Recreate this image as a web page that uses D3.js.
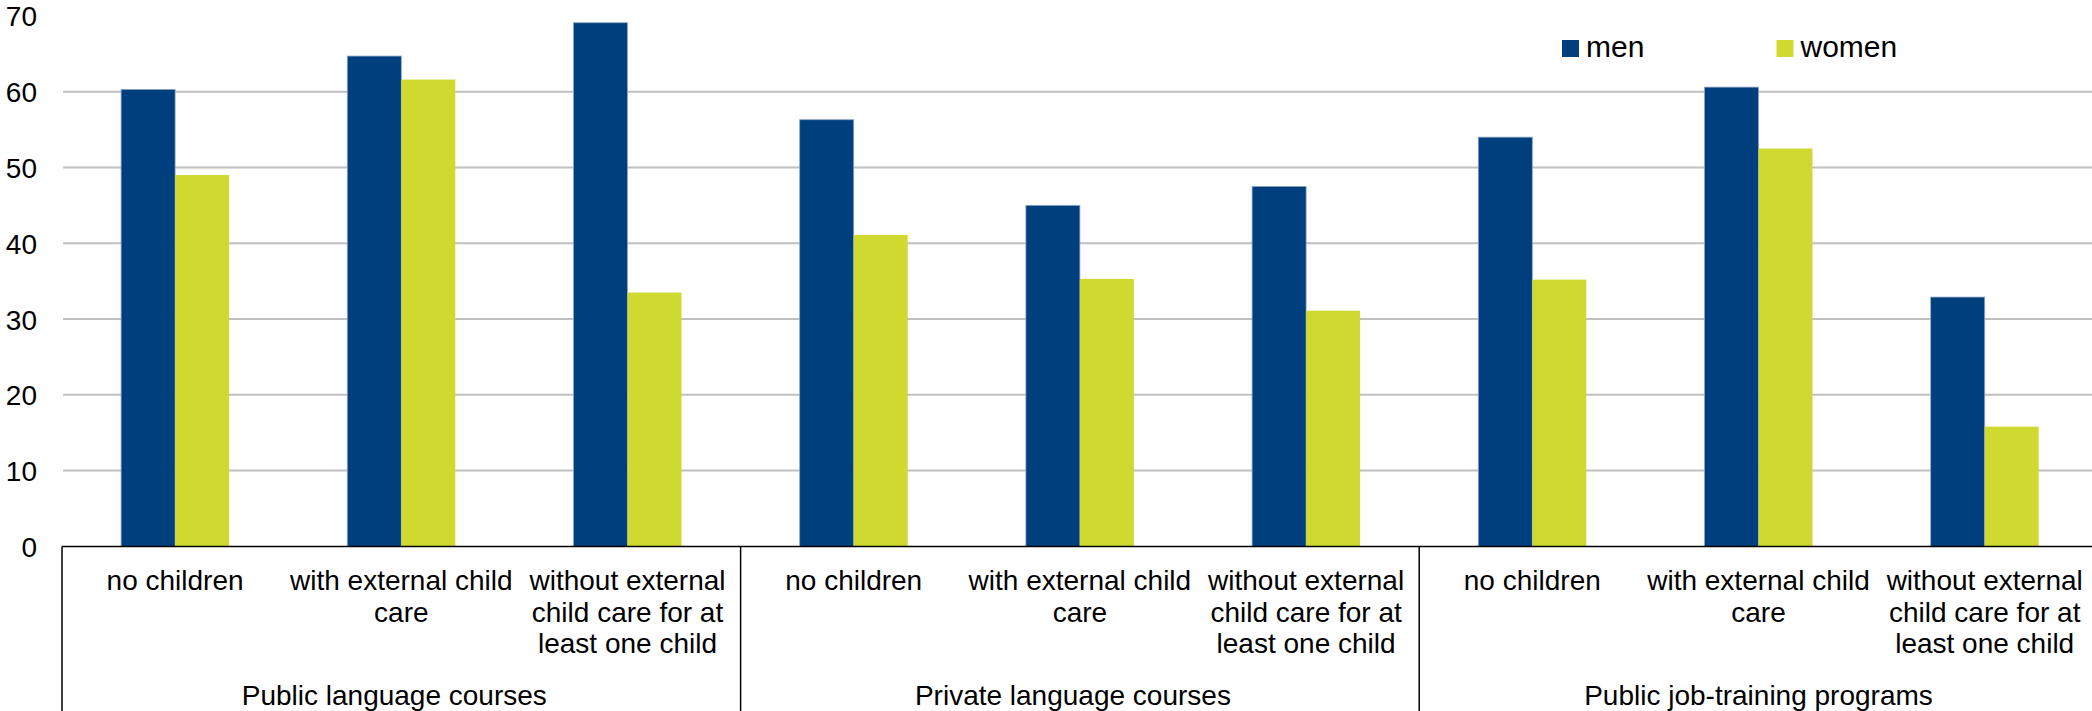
<!DOCTYPE html>
<html>
<head>
<meta charset="utf-8">
<script src="https://cdn.jsdelivr.net/npm/d3@7"></script>
<style>
  html, body { margin: 0; padding: 0; background: #ffffff; }
  svg { display: block; font-family: "Liberation Sans", Arial, sans-serif; }
</style>
</head>
<body>
<svg id="chart" width="2092" height="711"></svg>
<script>
// ---- data ----
const groups = ["Public language courses", "Private language courses", "Public job-training programs"];
const categories = [
  ["no children"],
  ["with external child", "care"],
  ["without external", "child care for at", "least one child"]
];
const seriesNames = ["men", "women"];
const menValues   = [60.3, 64.7, 69.1, 56.3, 45.0, 47.5, 54.0, 60.6, 32.9];
const womenValues = [49.0, 61.6, 33.5, 41.1, 35.3, 31.1, 35.2, 52.5, 15.8];
const yTicks = [0, 10, 20, 30, 40, 50, 60, 70];
const colors = { men: "#003F7E", women: "#CFD92F" };

// ---- layout ----
const W = 2092, H = 711;
const plotLeft = 62, step = 226.2, plotTop = 15.9, plotBottom = 546.4;
const nCat = groups.length * categories.length;

const rows = [];
groups.forEach((g, gi) => categories.forEach((c, ci) => {
  const i = gi * categories.length + ci;
  rows.push({ key: i, group: g, lines: c, men: menValues[i], women: womenValues[i] });
}));

const svg = d3.select("#chart");

const x0 = d3.scaleBand().domain(d3.range(nCat)).range([plotLeft, plotLeft + nCat * step]).padding(0);
const barW = 54;
const x1 = d3.scaleBand().domain(seriesNames)
  .range([(x0.bandwidth() - 2 * barW) / 2, (x0.bandwidth() + 2 * barW) / 2]).padding(0);
const y = d3.scaleLinear().domain([0, 70]).range([plotBottom, plotTop]);

// gridlines
svg.append("g").selectAll("line").data(yTicks.filter(t => t > 0 && t < 70)).join("line")
  .attr("x1", plotLeft + 1).attr("x2", W)
  .attr("y1", d => y(d)).attr("y2", d => y(d))
  .attr("stroke", "#C0C0C0").attr("stroke-width", 2);

// y axis labels
const yAxis = d3.axisLeft(y).tickValues(yTicks).tickSize(0).tickPadding(0);
const ya = svg.append("g").attr("transform", "translate(37,0)").call(yAxis);
ya.select(".domain").remove();
ya.selectAll("text").attr("font-size", 28).attr("fill", "#000")
  .attr("font-family", "'Liberation Sans', Arial, sans-serif").attr("dy", "0.36em");

// bars
const cat = svg.append("g").selectAll("g").data(rows).join("g")
  .attr("transform", d => `translate(${x0(d.key)},0)`);
cat.selectAll("rect").data(d => seriesNames.map(s => ({ s, v: d[s] }))).join("rect")
  .attr("x", d => x1(d.s)).attr("width", x1.bandwidth())
  .attr("y", d => y(d.v)).attr("height", d => y(0) - y(d.v))
  .attr("fill", d => colors[d.s])
  .attr("stroke", d => d.s === "men" ? "#8EA3C2" : "none")
  .attr("stroke-width", 0.8);

// x axis line
svg.append("line").attr("x1", plotLeft).attr("x2", W).attr("y1", y(0)).attr("y2", y(0))
  .attr("stroke", "#000").attr("stroke-width", 1.5);

// group separators
const groupEdges = d3.range(groups.length).map(gi => x0(gi * categories.length));
svg.append("g").selectAll("line").data(groupEdges).join("line")
  .attr("x1", d => d).attr("x2", d => d).attr("y1", y(0)).attr("y2", H)
  .attr("stroke", "#000").attr("stroke-width", 1.5);

// category labels
const lab = svg.append("g").selectAll("text").data(rows).join("text")
  .attr("text-anchor", "middle").attr("font-size", 28).attr("fill", "#000")
  .attr("x", d => x0(d.key) + x0.bandwidth() / 2)
  .attr("y", 590);
lab.selectAll("tspan").data(d => d.lines.map(l => ({ l, x: x0(d.key) + x0.bandwidth() / 2 }))).join("tspan")
  .attr("x", d => d.x).attr("dy", (d, i) => i === 0 ? 0 : 31.5).text(d => d.l);

// group labels
svg.append("g").selectAll("text").data(groups).join("text")
  .attr("text-anchor", "middle").attr("font-size", 28).attr("fill", "#000")
  .attr("x", (g, gi) => x0(gi * categories.length) + categories.length * step / 2 - (gi < groups.length - 1 ? 7 : 0))
  .attr("y", 705).text(d => d);

// legend
const legend = svg.append("g").selectAll("g").data(seriesNames).join("g")
  .attr("transform", (d, i) => `translate(${1562 + i * 214.5},40)`);
legend.append("rect").attr("width", 17).attr("height", 17).attr("fill", d => colors[d]);
legend.append("text").attr("x", 24).attr("y", 17).attr("font-size", 30).attr("fill", "#000").text(d => d);
</script>
</body>
</html>
